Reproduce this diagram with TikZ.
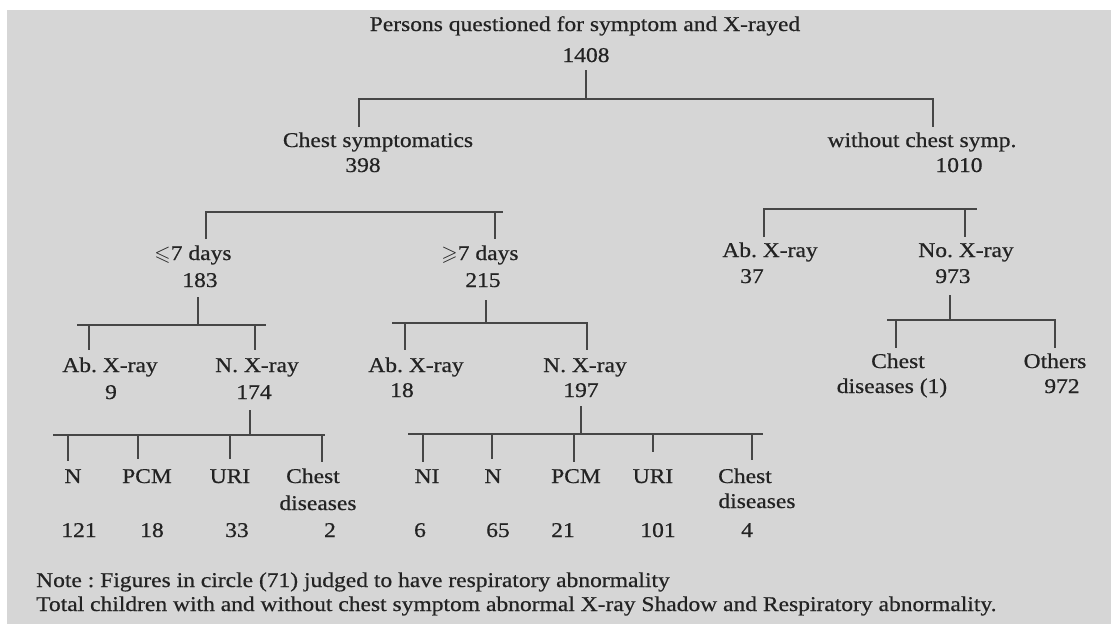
\documentclass[tikz,border=0pt]{standalone}
\usepackage{amssymb}
\usepackage{fontspec}
\setmainfont[FakeStretch=1.12,FakeBold=0.6]{Liberation Serif}
\frenchspacing
\definecolor{paper}{RGB}{214,214,214}
\definecolor{ink}{RGB}{35,35,35}
\definecolor{wire}{RGB}{70,70,70}
\newcommand\lblfont{\fontsize{21}{24}\selectfont}
\tikzset{
  lbl/.style={anchor=base, inner sep=0pt, text=ink, font=\lblfont},
  notetext/.style={anchor=base west, inner sep=0pt, text=ink, font=\lblfont},
  conn/.style={draw=wire, line width=1.6pt, line join=miter}
}
\begin{document}
\begin{tikzpicture}[x=1pt,y=-1pt]
\fill[white] (0,0) rectangle (1111,624);
\fill[paper] (7,10) rectangle (1111,624);
\useasboundingbox (0,0) rectangle (1111,624);

% ---------- text ----------
\node[lbl] (top) at (585,31) {Persons questioned for symptom and X-rayed};
\node[lbl] (n1408) at (586,62) {1408};
\node[lbl] (cs) at (378,147) {Chest symptomatics};
\node[lbl] (n398) at (363,172) {398};
\node[lbl] (wcs) at (922,147) {without chest symp.};
\node[lbl] (n1010) at (959,172) {1010};

\node[lbl] (le) at (193,260) {$\leqslant$7 days};
\node[lbl] (n183) at (200,287) {183};
\node[lbl] (ge) at (480,260) {$\geqslant$7 days};
\node[lbl] (n215) at (483,287) {215};
\node[lbl] (abR) at (770,257) {Ab. X-ray};
\node[lbl] (n37) at (752,283) {37};
\node[lbl] (noR) at (966,257) {No. X-ray};
\node[lbl] (n973) at (953,283) {973};

\node[lbl] (abL) at (110,372) {Ab. X-ray};
\node[lbl] (n9) at (111,399) {9};
\node[lbl] (nxL) at (257,372) {N. X-ray};
\node[lbl] (n174) at (254,399) {174};
\node[lbl] (abM) at (416,372) {Ab. X-ray};
\node[lbl] (n18m) at (402,397) {18};
\node[lbl] (nxM) at (585,372) {N. X-ray};
\node[lbl] (n197) at (581,397) {197};
\node[lbl] (cdR) at (898,368) {Chest};
\node[lbl] (cdR2) at (892,393) {diseases (1)};
\node[lbl] (oth) at (1055,368) {Others};
\node[lbl] (n972) at (1062,393) {972};

\node[lbl] (aN) at (73,483) {N};
\node[lbl] (aPCM) at (147,483) {PCM};
\node[lbl] (aURI) at (230,483) {URI};
\node[lbl] (aCh) at (313,483) {Chest};
\node[lbl] (aCh2) at (318,510) {diseases};
\node[lbl] (a121) at (79,537) {121};
\node[lbl] (a18) at (152,537) {18};
\node[lbl] (a33) at (237,537) {33};
\node[lbl] (a2) at (330,537) {2};

\node[lbl] (bNI) at (427,483) {NI};
\node[lbl] (bN) at (493,483) {N};
\node[lbl] (bPCM) at (576,483) {PCM};
\node[lbl] (bURI) at (653,483) {URI};
\node[lbl] (bCh) at (745,483) {Chest};
\node[lbl] (bCh2) at (757,508) {diseases};
\node[lbl] (b6) at (420,537) {6};
\node[lbl] (b65) at (498,537) {65};
\node[lbl] (b21) at (563,537) {21};
\node[lbl] (b101) at (658,537) {101};
\node[lbl] (b4) at (747,537) {4};

\node[notetext] (note1) at (36,587) {Note : Figures in circle (71) judged to have respiratory abnormality};
\node[notetext] (note2) at (36,611) {Total children with and without chest symptom abnormal X-ray Shadow and Respiratory abnormality.};

% ---------- connectors ----------
% level 0
\coordinate (t0s) at (586,70);  \coordinate (t0j) at (586,99);
\coordinate (b0L) at (359,99);  \coordinate (b0R) at (933,99);
\coordinate (d0a) at (359,127); \coordinate (d0b) at (933,127);
\draw[conn] (t0s) -- (t0j);
\draw[conn] (d0a) -- (b0L) -- (b0R) -- (d0b);

% level 1 left (chest symptomatics)
\coordinate (b1L) at (206,212); \coordinate (b1R) at (503,212);
\coordinate (u1a) at (495,212);
\coordinate (d1a) at (206,239); \coordinate (d1b) at (495,239);
\draw[conn] (d1a) -- (b1L) -- (b1R);
\draw[conn] (u1a) -- (d1b);

% level 1 right (without chest symp.)
\coordinate (b2L) at (764,209); \coordinate (b2R) at (977,209);
\coordinate (u2a) at (965,209);
\coordinate (d2a) at (764,237); \coordinate (d2b) at (965,237);
\draw[conn] (d2a) -- (b2L) -- (b2R);
\draw[conn] (u2a) -- (d2b);

% under 183
\coordinate (t3s) at (198,297); \coordinate (t3j) at (198,325);
\coordinate (b3L) at (77,325);  \coordinate (b3R) at (266,325);
\coordinate (u3a) at (89,325);  \coordinate (d3a) at (89,350);
\coordinate (u3b) at (255,325); \coordinate (d3b) at (255,350);
\draw[conn] (t3s) -- (t3j);
\draw[conn] (b3L) -- (b3R);
\draw[conn] (u3a) -- (d3a);
\draw[conn] (u3b) -- (d3b);

% under 215
\coordinate (t4s) at (486,300); \coordinate (t4j) at (486,323);
\coordinate (b4L) at (392,323); \coordinate (b4R) at (587,323);
\coordinate (u4a) at (405,323); \coordinate (d4a) at (405,350);
\coordinate (d4b) at (587,350);
\draw[conn] (t4s) -- (t4j);
\draw[conn] (b4L) -- (b4R) -- (d4b);
\draw[conn] (u4a) -- (d4a);

% under 973
\coordinate (t5s) at (950,295); \coordinate (t5j) at (950,320);
\coordinate (b5L) at (887,320); \coordinate (b5R) at (1055,320);
\coordinate (u5a) at (896,320); \coordinate (d5a) at (896,348);
\coordinate (d5b) at (1055,348);
\draw[conn] (t5s) -- (t5j);
\draw[conn] (b5L) -- (b5R) -- (d5b);
\draw[conn] (u5a) -- (d5a);

% under 174
\coordinate (t6s) at (250,410); \coordinate (t6j) at (250,435);
\coordinate (b6L) at (53,435);  \coordinate (b6R) at (325,435);
\draw[conn] (t6s) -- (t6j);
\draw[conn] (b6L) -- (b6R);
\foreach \x/\y in {68/461,138/459,230/459,322/462}
  \draw[conn] (\x,435) -- (\x,\y);

% under 197
\coordinate (t7s) at (581,406); \coordinate (t7j) at (581,434);
\coordinate (b7L) at (408,434); \coordinate (b7R) at (763,434);
\draw[conn] (t7s) -- (t7j);
\draw[conn] (b7L) -- (b7R);
\foreach \x/\y in {423/462,492/459,574/462,653/452,752/460}
  \draw[conn] (\x,434) -- (\x,\y);
\end{tikzpicture}
\end{document}
